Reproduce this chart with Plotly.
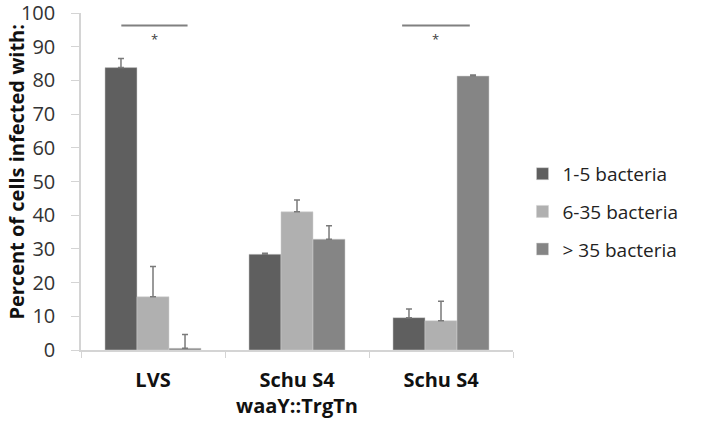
import plotly.graph_objects as go

categories = ["LVS", "Schu S4<br>waaY::TrgTn", "Schu S4"]
series_names = ["1-5 bacteria", "6-35 bacteria", "> 35 bacteria"]
vals_1_5 = [83.8, 28.4, 9.6]
vals_6_35 = [15.8, 41.0, 8.7]
vals_gt35 = [0.5, 32.9, 81.3]
err_1_5 = [2.7, 0.3, 2.6]
err_6_35 = [9.0, 3.5, 5.8]
err_gt35 = [4.1, 4.0, 0.3]
colors = ["#5f5f5f", "#b0b0b0", "#858585"]

values = [vals_1_5, vals_6_35, vals_gt35]
errors = [err_1_5, err_6_35, err_gt35]

fig = go.Figure()
for name, v, e, c in zip(series_names, values, errors, colors):
    fig.add_trace(go.Bar(
        x=categories, y=v, name=name,
        marker=dict(color=c, line=dict(color="#d0d0d0", width=0.5)),
        error_y=dict(type="data", symmetric=False, array=e, arrayminus=[0] * len(e),
                     color="#7a7a7a", thickness=1.5, width=3),
        legendgroup=name,
    ))

# significance brackets
sig_lines = [(-0.22, 0.24, 0), (-0.27, 0.20, 2)]
for x0, x1, ci in sig_lines:
    fig.add_shape(type="line", xref="x", yref="y", x0=ci + x0, x1=ci + x1, y0=96.3, y1=96.3,
                  line=dict(color="#808080", width=2))
    fig.add_annotation(x=ci + (x0 + x1) / 2, y=92.3, xref="x", yref="y", text="*",
                       showarrow=False, font=dict(size=13, color="#404040", family="Open Sans"))

fig.add_annotation(text="<b>Percent of cells infected with:</b>", xref="paper", yref="paper",
                   x=-0.15, y=0.53, xanchor="center", yanchor="middle", textangle=-90,
                   showarrow=False,
                   font=dict(size=20, color="#111111", family="Open Sans"))

fig.update_layout(
    width=724, height=422,
    margin=dict(l=81, r=211, t=13, b=72, autoexpand=False),
    paper_bgcolor="white", plot_bgcolor="white",
    barmode="group", bargap=0.333, bargroupgap=0,
    font=dict(family="Open Sans", color="#333333"),
    showlegend=True,
    legend=dict(x=1.022, xanchor="left", y=0.41, yanchor="middle",
                font=dict(size=19, color="#222222"), tracegroupgap=10,
                bgcolor="rgba(0,0,0,0)"),
    xaxis=dict(type="category", showline=True, linecolor="#d4d4d4", linewidth=1.5,
               ticks="outside", tickson="boundaries", ticklen=6, tickcolor="#d4d4d4",
               tickfont=dict(size=20, color="#111111", family="Open Sans"),
               ticklabelstandoff=11, showgrid=False, automargin=False),
    yaxis=dict(range=[0, 100], dtick=10, showline=True, linecolor="#d4d4d4", linewidth=1.5,
               ticks="outside", ticklen=8, tickcolor="#d4d4d4", showgrid=False, zeroline=False,
               ticklabelstandoff=12, automargin=False, ticklabeloverflow="allow",
               tickfont=dict(size=20, color="#333333", family="Open Sans")),
)
# make x tick labels bold
fig.update_xaxes(ticktext=["<b>LVS</b>", "<b>Schu S4</b><br><b>waaY::TrgTn</b>", "<b>Schu S4</b>"],
                 tickvals=categories)

fig.write_html("out.html")
